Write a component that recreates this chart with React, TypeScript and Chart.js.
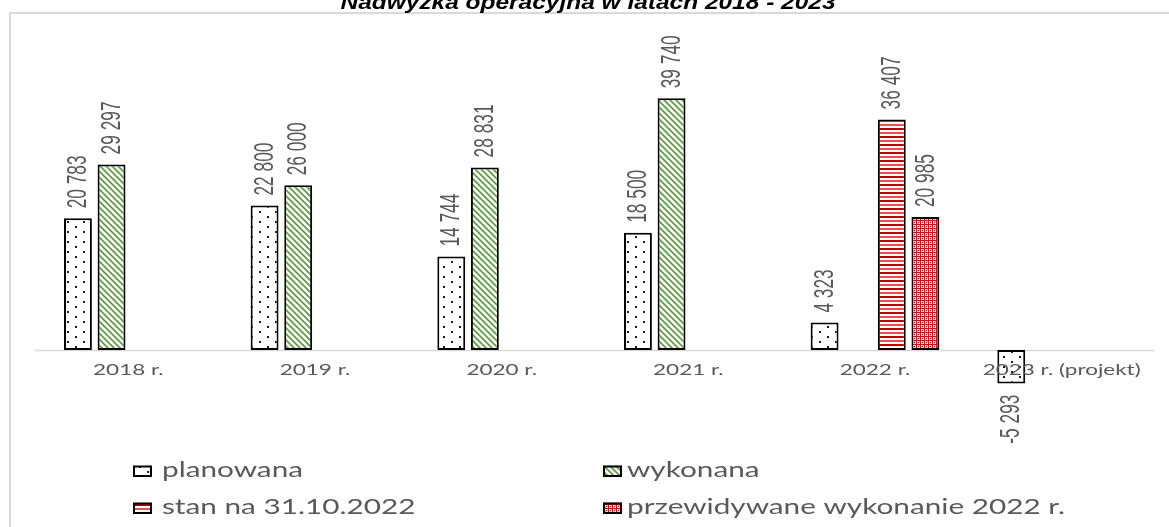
import React, { useEffect, useRef } from 'react';
import { Chart, registerables } from 'chart.js';

Chart.register(...registerables);

const chartTitle = 'Nadwyżka operacyjna w latach 2018 - 2023';
const categories = ['2018 r.', '2019 r.', '2020 r.', '2021 r.', '2022 r.', '2023 r. (projekt)'];
const seriesNames = ['planowana', 'wykonana', 'stan na 31.10.2022', 'przewidywane wykonanie 2022 r.'];
const planowana: (number | null)[] = [20783, 22800, 14744, 18500, 4323, -5293];
const wykonana: (number | null)[] = [29297, 26000, 28831, 39740, null, null];
const stan: (number | null)[] = [null, null, null, null, 36407, null];
const przewidywane: (number | null)[] = [null, null, null, null, 20985, null];

const W = 1169;
const H = 527;
const GRAY_TEXT = '#595959';

function tile(w: number, h: number, draw: (g: CanvasRenderingContext2D) => void): HTMLCanvasElement {
  const c = document.createElement('canvas');
  c.width = w;
  c.height = h;
  const g = c.getContext('2d') as CanvasRenderingContext2D;
  draw(g);
  return c;
}

function makePatterns(ctx: CanvasRenderingContext2D) {
  const dots = tile(16, 10, (g) => {
    g.fillStyle = '#ffffff';
    g.fillRect(0, 0, 16, 10);
    g.fillStyle = '#1a1a1a';
    g.fillRect(3, 1, 2, 2);
    g.fillRect(11, 6, 2, 2);
  });
  const diag = tile(6, 6, (g) => {
    g.fillStyle = '#ffffff';
    g.fillRect(0, 0, 6, 6);
    g.strokeStyle = '#5a9a3a';
    g.lineWidth = 1.6;
    g.beginPath();
    for (const o of [-6, 0, 6]) {
      g.moveTo(o - 1, -1);
      g.lineTo(o + 7, 7);
    }
    g.stroke();
  });
  const hlines = tile(4, 8, (g) => {
    g.fillStyle = '#ffffff';
    g.fillRect(0, 0, 4, 8);
    g.fillStyle = '#c00000';
    g.fillRect(0, 0, 4, 2);
    g.fillStyle = '#dd5555';
    g.fillRect(0, 4, 4, 2);
  });
  const grid = tile(4, 4, (g) => {
    g.fillStyle = '#f3b0b0';
    g.fillRect(0, 0, 4, 4);
    g.fillStyle = '#d01010';
    g.fillRect(0, 0, 4, 1);
    g.fillRect(0, 0, 1, 4);
    g.fillRect(2, 2, 1, 1);
    g.fillStyle = '#ffffff';
    g.fillRect(1, 1, 1, 1);
    g.fillRect(3, 3, 1, 1);
  });
  return [dots, diag, hlines, grid].map((c) => ctx.createPattern(c, 'repeat') as CanvasPattern);
}

function fmt(v: number): string {
  const s = Math.abs(v).toString().replace(/\B(?=(\d{3})+(?!\d))/g, ' ');
  return (v < 0 ? '-' : '') + s;
}

function scaledText(
  ctx: CanvasRenderingContext2D,
  text: string,
  x: number,
  y: number,
  font: string,
  sx: number,
  align: CanvasTextAlign,
  color: string
) {
  ctx.save();
  ctx.font = font;
  ctx.fillStyle = color;
  ctx.textAlign = align;
  ctx.textBaseline = 'alphabetic';
  ctx.translate(x, y);
  ctx.scale(sx, 1);
  ctx.fillText(text, 0, 0);
  ctx.restore();
}

export default function App() {
  const ref = useRef<HTMLCanvasElement | null>(null);

  useEffect(() => {
    const canvas = ref.current;
    if (!canvas) return;
    const ctx0 = canvas.getContext('2d') as CanvasRenderingContext2D;
    const patterns = makePatterns(ctx0);

    const decor = {
      id: 'decor',
      beforeDraw(chart: any) {
        const ctx: CanvasRenderingContext2D = chart.ctx;
        ctx.save();
        ctx.fillStyle = '#ffffff';
        ctx.fillRect(0, 0, chart.width, chart.height);
        // frame
        ctx.strokeStyle = '#d9d9d9';
        ctx.lineWidth = 2;
        ctx.beginPath();
        ctx.moveTo(10, H + 2);
        ctx.lineTo(10, 13);
        ctx.lineTo(W + 2, 13);
        ctx.stroke();
        // title (partly clipped at top)
        const tFont = 'italic bold 20px "Liberation Sans", Arial, sans-serif';
        ctx.font = tFont;
        const tw = ctx.measureText(chartTitle).width;
        scaledText(ctx, chartTitle, 588, 9, tFont, 495 / tw, 'center', '#000000');
        ctx.restore();
      },
      beforeDatasetsDraw(chart: any) {
        const ctx: CanvasRenderingContext2D = chart.ctx;
        const y0 = Math.round(chart.scales.y.getPixelForValue(0)) + 0.5;
        ctx.save();
        ctx.strokeStyle = '#d9d9d9';
        ctx.lineWidth = 1.5;
        ctx.beginPath();
        ctx.moveTo(chart.chartArea.left, y0);
        ctx.lineTo(chart.chartArea.right, y0);
        ctx.stroke();
        ctx.restore();
      },
      afterDatasetsDraw(chart: any) {
        const ctx: CanvasRenderingContext2D = chart.ctx;
        // data labels
        const dlFont = '20px "Liberation Sans", Arial, sans-serif';
        ctx.save();
        ctx.font = dlFont;
        const lenScale = 53 / ctx.measureText('20 783').width;
        const glyphScale = 1.4;
        chart.data.datasets.forEach((ds: any, di: number) => {
          const meta = chart.getDatasetMeta(di);
          meta.data.forEach((el: any, i: number) => {
            const v = ds.data[i];
            if (v === null || v === undefined) return;
            const pos = v >= 0;
            const ay = pos ? el.y - 10 : el.y + 11;
            ctx.save();
            ctx.font = dlFont;
            ctx.fillStyle = GRAY_TEXT;
            ctx.translate(el.x + 0.5, ay);
            ctx.rotate(-Math.PI / 2);
            ctx.scale(lenScale, glyphScale);
            ctx.textBaseline = 'middle';
            ctx.textAlign = pos ? 'left' : 'right';
            ctx.fillText(fmt(v), 0, 0);
            ctx.restore();
          });
        });
        ctx.restore();

        // category labels
        const cFont = '15px Lato, "Open Sans", sans-serif';
        ctx.save();
        ctx.font = cFont;
        const csx = 158 / ctx.measureText(categories[5]).width;
        ctx.restore();
        categories.forEach((c, i) => {
          const x = chart.scales.x.getPixelForValue(i);
          scaledText(ctx, c, x, 375, cFont, csx, 'center', GRAY_TEXT);
        });

        // legend
        const lFont = '21px Lato, "Open Sans", sans-serif';
        ctx.save();
        ctx.font = lFont;
        const lsx = 141 / ctx.measureText(seriesNames[0]).width;
        ctx.restore();
        const cols = [
          { mx: 133, tx: 162 },
          { mx: 603, tx: 627 },
        ];
        const rows = [477, 514];
        seriesNames.forEach((name, k) => {
          const col = cols[k % 2];
          const base = rows[Math.floor(k / 2)];
          ctx.save();
          ctx.fillStyle = patterns[k];
          ctx.fillRect(col.mx, base - 11.5, 19, 11.5);
          ctx.strokeStyle = '#000000';
          ctx.lineWidth = 2;
          ctx.strokeRect(col.mx + 1, base - 10.5, 17, 9.5);
          ctx.restore();
          scaledText(ctx, name, col.tx, base, lFont, lsx, 'left', GRAY_TEXT);
        });
      },
    };

    const seriesData = [planowana, wykonana, stan, przewidywane];
    const chart = new Chart(canvas, {
      type: 'bar',
      data: {
        labels: categories,
        datasets: seriesData.map((d, k) => ({
          label: seriesNames[k],
          data: d,
          backgroundColor: patterns[k],
          borderColor: '#000000',
          borderWidth: 2,
          borderSkipped: false,
          categoryPercentage: 0.72,
          barPercentage: 0.83,
        })),
      } as any,
      options: {
        responsive: false,
        maintainAspectRatio: false,
        animation: false,
        events: [],
        layout: { padding: { left: 35, right: 14, top: 65, bottom: 82 } },
        plugins: {
          legend: { display: false },
          title: { display: false },
          tooltip: { enabled: false },
        },
        scales: {
          x: { display: false },
          y: { display: false, min: -15000, max: 45000 },
        },
      } as any,
      plugins: [decor],
    });

    return () => {
      chart.destroy();
    };
  }, []);

  return (
    <div style={{ position: 'absolute', left: 0, top: 0, width: W, height: H, background: '#fff' }}>
      <canvas ref={ref} width={W} height={H} style={{ display: 'block', width: W, height: H }} />
    </div>
  );
}
